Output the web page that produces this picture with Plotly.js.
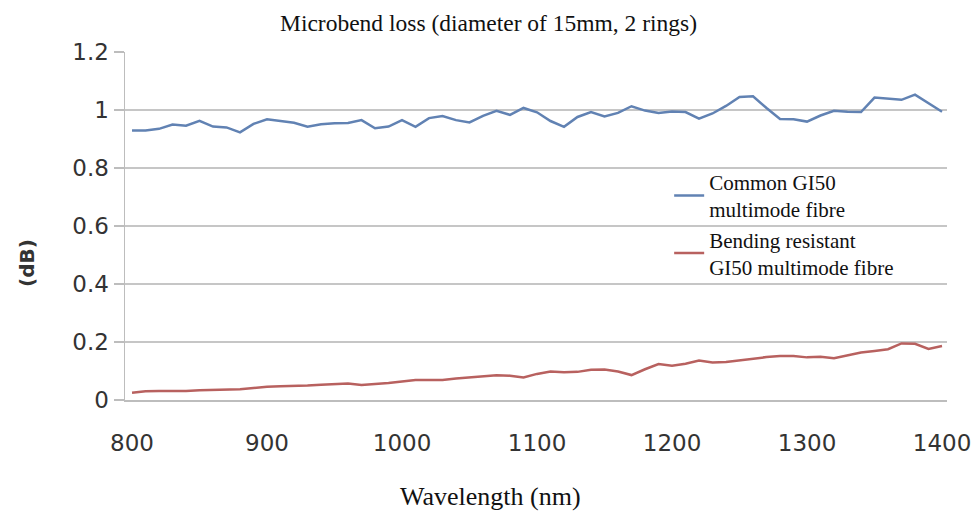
<!DOCTYPE html>
<html>
<head>
<meta charset="utf-8">
<script src="https://cdn.plot.ly/plotly-3.0.1.min.js"></script>
<style>html,body{margin:0;padding:0;background:#fff;}#chart{width:975px;height:513px;}</style>
</head>
<body>
<div id="chart"></div>
<script>
const wavelength = [800,810,820,830,840,850,860,870,880,890,900,910,920,930,940,950,960,970,980,990,1000,1010,1020,1030,1040,1050,1060,1070,1080,1090,1100,1110,1120,1130,1140,1150,1160,1170,1180,1190,1200,1210,1220,1230,1240,1250,1260,1270,1280,1290,1300,1310,1320,1330,1340,1350,1360,1370,1380,1390,1400];
const commonGI50 = [0.929,0.929,0.935,0.950,0.946,0.963,0.943,0.940,0.923,0.952,0.968,0.962,0.956,0.942,0.951,0.954,0.955,0.965,0.937,0.943,0.965,0.942,0.972,0.979,0.965,0.957,0.980,0.997,0.983,1.007,0.992,0.962,0.942,0.976,0.993,0.978,0.990,1.013,0.998,0.990,0.995,0.993,0.970,0.988,1.014,1.045,1.047,1.007,0.969,0.968,0.960,0.981,0.997,0.994,0.993,1.043,1.038,1.035,1.053,1.025,0.994];
const bendResistGI50 = [0.025,0.030,0.031,0.031,0.031,0.034,0.035,0.036,0.037,0.041,0.046,0.047,0.048,0.050,0.053,0.056,0.057,0.052,0.055,0.059,0.064,0.069,0.069,0.069,0.074,0.078,0.080,0.085,0.084,0.078,0.090,0.098,0.096,0.097,0.104,0.105,0.098,0.086,0.106,0.124,0.118,0.125,0.136,0.129,0.131,0.137,0.144,0.148,0.152,0.152,0.147,0.149,0.144,0.155,0.164,0.169,0.175,0.195,0.194,0.176,0.186];
const seriesNames = ["Common GI50<br>multimode fibre", "Bending resistant<br>GI50 multimode fibre"];
const xTicks = [800,900,1000,1100,1200,1300,1400];
const yTicks = [0,0.2,0.4,0.6,0.8,1,1.2];
const yTickText = ["0","0.2","0.4","0.6","0.8","1","1.2"];

const serif = "Liberation Serif, Times New Roman, serif";
const sans = "DejaVu Sans, sans-serif";

const traces = [
  {x: wavelength, y: commonGI50, type: "scatter", mode: "lines", name: seriesNames[0],
   line: {color: "#6182b3", width: 2.5}},
  {x: wavelength, y: bendResistGI50, type: "scatter", mode: "lines", name: seriesNames[1],
   line: {color: "#b8615f", width: 2.5}}
];

const layout = {
  width: 975, height: 513,
  margin: {l: 125, r: 28, t: 52, b: 113},
  paper_bgcolor: "#ffffff", plot_bgcolor: "#ffffff",
  showlegend: true,
  legend: {x: 0.662, y: 0.685, xanchor: "left", yanchor: "top",
           bgcolor: "rgba(0,0,0,0)", borderwidth: 0,
           font: {family: serif, size: 21, color: "#111"}, tracegroupgap: 2},
  xaxis: {range: [794.8, 1403.7], tickvals: xTicks, ticktext: xTicks.map(String),
          showgrid: false, zeroline: false, showline: true, linecolor: "#bdbdbd", linewidth: 1.5,
          ticks: "", ticklabelstandoff: 22,
          tickfont: {family: sans, size: 23, color: "#333"}},
  yaxis: {range: [0, 1.2], tickvals: yTicks, ticktext: yTickText,
          showgrid: true, gridcolor: "#c6c6c6", gridwidth: 1.5, zeroline: false,
          showline: true, linecolor: "#bdbdbd", linewidth: 1.5,
          ticks: "outside", ticklen: 10, tickcolor: "#bdbdbd", tickwidth: 1.5,
          ticksuffix: "\u2002\u2009",
          tickfont: {family: sans, size: 23, color: "#333"}},
  annotations: [
    {text: "Microbend loss (diameter of 15mm, 2 rings)", xref: "paper", yref: "paper",
     x: (488 - 125) / 822, y: (400 - 23) / 348, xanchor: "center", yanchor: "middle", showarrow: false,
     font: {family: serif, size: 23.5, color: "#111"}},
    {text: "Wavelength (nm)", xref: "paper", yref: "paper",
     x: (490 - 125) / 822, y: (400 - 496) / 348, xanchor: "center", yanchor: "middle", showarrow: false,
     font: {family: serif, size: 26, color: "#111"}},
    {text: "<b>(dB)</b>", xref: "paper", yref: "paper", textangle: -90,
     x: (27 - 125) / 822, y: (400 - 263) / 348, xanchor: "center", yanchor: "middle", showarrow: false,
     font: {family: sans, size: 20, color: "#333"}}
  ]
};

Plotly.newPlot("chart", traces, layout, {displayModeBar: false, staticPlot: true});
</script>
</body>
</html>
